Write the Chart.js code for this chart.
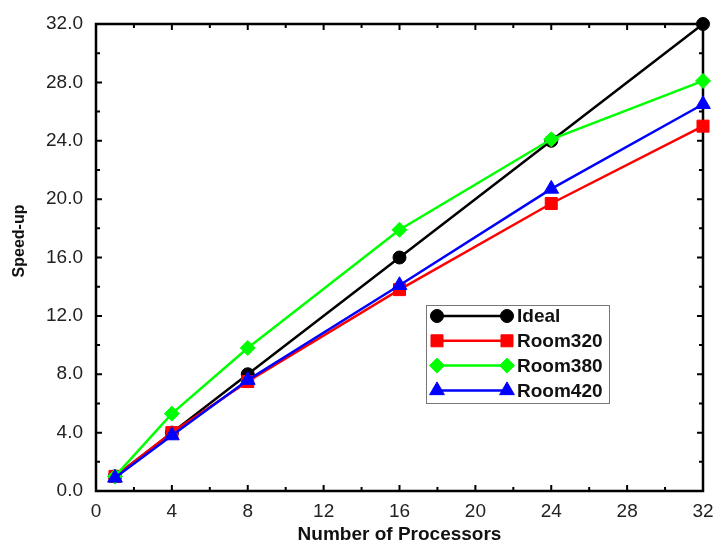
<!DOCTYPE html>
<html>
<head>
<meta charset="utf-8">
<script src="https://cdn.jsdelivr.net/npm/chart.js@4"></script>
<style>
  html, body { margin: 0; padding: 0; background: #ffffff; }
  #wrap { width: 714px; height: 542px; position: relative; }
</style>
</head>
<body>
<div id="wrap"><canvas id="c" width="714" height="542"></canvas></div>
<script>
// ---- data ----
const processors = [1, 4, 8, 16, 24, 32];
const ideal    = [1, 4, 8, 16, 24, 32];
const room320  = [1.0, 4.0, 7.5, 13.8, 19.7, 25.0];
const room380  = [1.0, 5.3, 9.8, 17.9, 24.1, 28.1];
const room420  = [0.9, 3.8, 7.6, 14.1, 20.7, 26.5];
const seriesNames = ['Ideal', 'Room320', 'Room380', 'Room420'];
const xTickValues = [0, 4, 8, 12, 16, 20, 24, 28, 32];
const yTickValues = [0, 4, 8, 12, 16, 20, 24, 28, 32];
const xTitle = 'Number of Processors';
const yTitle = 'Speed-up';

const FONT = "'Liberation Sans', Arial, sans-serif";

function pts(ys) { return processors.map((x, i) => ({ x: x, y: ys[i] })); }

const styles = [
  { color: '#000000', pointStyle: 'circle',   radius: 6.5, order: 4 },
  { color: '#ff0000', pointStyle: 'rect',     radius: 8.5, order: 3 },
  { color: '#00ff00', pointStyle: 'rectRot',  radius: 7.5, order: 2 },
  { color: '#0000ff', pointStyle: 'triangle', radius: 8.5, order: 1 }
];
const allSeries = [ideal, room320, room380, room420];

const datasets = allSeries.map((s, i) => ({
  label: seriesNames[i],
  data: pts(s),
  order: styles[i].order,
  clip: false,
  borderColor: styles[i].color,
  backgroundColor: styles[i].color,
  pointBackgroundColor: styles[i].color,
  pointBorderColor: styles[i].color,
  pointStyle: styles[i].pointStyle,
  pointRadius: styles[i].radius,
  pointHoverRadius: styles[i].radius,
  borderWidth: 2.5,
  pointBorderWidth: 1,
  tension: 0,
  fill: false
}));

const framePlugin = {
  id: 'frame',
  beforeDatasetsDraw(chart) {
    const { ctx, chartArea: a, scales } = chart;
    const xs = scales.x, ys = scales.y;
    ctx.save();
    ctx.strokeStyle = '#000';
    ctx.lineWidth = 2;
    for (let v = 0; v <= 32; v += 2) {
      const len = (v % 4 === 0) ? 6 : 4;
      const px = xs.getPixelForValue(v);
      ctx.beginPath();
      ctx.moveTo(px, a.bottom); ctx.lineTo(px, a.bottom - len);
      ctx.moveTo(px, a.top); ctx.lineTo(px, a.top + len);
      ctx.stroke();
      const py = ys.getPixelForValue(v);
      ctx.beginPath();
      ctx.moveTo(a.left, py); ctx.lineTo(a.left + len, py);
      ctx.moveTo(a.right, py); ctx.lineTo(a.right - len, py);
      ctx.stroke();
    }
    ctx.lineWidth = 2.5;
    ctx.strokeRect(a.left, a.top, a.right - a.left, a.bottom - a.top);
    // y axis title
    ctx.fillStyle = '#111';
    ctx.font = 'bold 16px ' + FONT;
    ctx.textAlign = 'center';
    ctx.textBaseline = 'middle';
    ctx.translate(19.5, 241);
    ctx.rotate(-Math.PI / 2);
    ctx.fillText(yTitle, 0, 0);
    ctx.restore();
  },
  afterDraw(chart) {
    const { ctx } = chart;
    const box = { x: 426, y: 305, w: 183, h: 98 };
    ctx.save();
    ctx.fillStyle = '#fff';
    ctx.fillRect(box.x, box.y, box.w, box.h);
    ctx.strokeStyle = '#777';
    ctx.lineWidth = 1;
    ctx.strokeRect(box.x + 0.5, box.y + 0.5, box.w, box.h);
    chart.data.datasets.forEach((ds, i) => {
      const yy = 316 + i * 24.8;
      const x1 = 437, x2 = 507;
      ctx.strokeStyle = ds.borderColor;
      ctx.lineWidth = 2.5;
      ctx.beginPath(); ctx.moveTo(x1, yy); ctx.lineTo(x2, yy); ctx.stroke();
      ctx.fillStyle = ds.borderColor;
      ctx.lineWidth = 1;
      Chart.helpers.drawPoint(ctx, { pointStyle: ds.pointStyle, radius: ds.pointRadius, borderWidth: 1 }, x1, yy);
      Chart.helpers.drawPoint(ctx, { pointStyle: ds.pointStyle, radius: ds.pointRadius, borderWidth: 1 }, x2, yy);
      ctx.fillStyle = '#111';
      ctx.font = 'bold 19px ' + FONT;
      ctx.textAlign = 'left';
      ctx.textBaseline = 'middle';
      ctx.fillText(ds.label, 517, yy + 1);
    });
    ctx.restore();
  }
};

new Chart(document.getElementById('c'), {
  type: 'line',
  data: { datasets: datasets },
  options: {
    responsive: false,
    animation: false,
    layout: { padding: { top: 24, right: 11, bottom: 0, left: 0 } },
    plugins: { legend: { display: false }, tooltip: { enabled: false } },
    scales: {
      x: {
        type: 'linear', min: 0, max: 32,
        afterBuildTicks(s) { s.ticks = xTickValues.map(v => ({ value: v })); },
        afterFit(s) { s.height = 51; s.paddingLeft = 0; s.paddingRight = 0; },
        grid: { display: false, drawTicks: false },
        border: { display: false },
        ticks: {
          color: '#222', padding: 9, maxRotation: 0,
          font: { family: FONT, size: 19 },
          callback: v => String(v)
        },
        title: {
          display: true, text: xTitle, color: '#111',
          font: { family: FONT, size: 19, weight: 'bold' },
          padding: { top: 0, bottom: -4 }
        }
      },
      y: {
        type: 'linear', min: 0, max: 32,
        afterBuildTicks(s) { s.ticks = yTickValues.map(v => ({ value: v })); },
        afterFit(s) { s.width = 96; s.paddingTop = 0; s.paddingBottom = 0; },
        grid: { display: false, drawTicks: false },
        border: { display: false },
        ticks: {
          color: '#222', padding: 13,
          font: { family: FONT, size: 19 },
          callback: v => Number(v).toFixed(1)
        },
        title: { display: false }
      }
    }
  },
  plugins: [framePlugin]
});
</script>
</body>
</html>
